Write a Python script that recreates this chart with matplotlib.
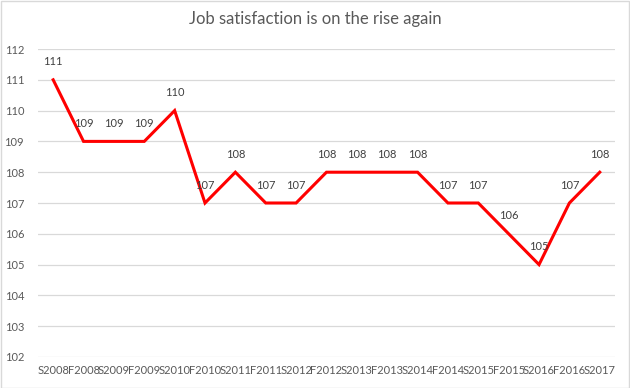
import matplotlib.pyplot as plt
import numpy as np

periods = ["S2008", "F2008", "S2009", "F2009", "S2010", "F2010", "S2011",
           "F2011", "S2012", "F2012", "S2013", "F2013", "S2014", "F2014",
           "S2015", "F2015", "S2016", "F2016", "S2017"]
satisfaction = [111, 109, 109, 109, 110, 107, 108, 107, 107, 108, 108, 108,
                108, 107, 107, 106, 105, 107, 108]
y_ticks = list(range(102, 113))

plt.rcParams["font.family"] = ["Lato", "DejaVu Sans"]
text_color = "#595959"

fig = plt.figure(figsize=(6.3, 3.88), dpi=100)
ax = fig.add_axes([0.0603, 0.0799, 0.9158, 0.7938])

x = np.arange(len(periods))
ax.plot(x, satisfaction, color="#FF0000", linewidth=2.2, solid_joinstyle="miter", zorder=3)
for xi, yi in zip(x, satisfaction):
    ax.annotate(str(yi), (xi, yi), xytext=(0, 9), textcoords="offset points",
                ha="center", va="bottom", fontsize=8, color="#404040")

ax.set_xlim(-0.5, len(periods) - 0.5)
ax.set_ylim(102, 112)
ax.set_yticks(y_ticks)
ax.set_xticks(x)
ax.set_xticklabels(periods)
ax.grid(axis="y", color="#D9D9D9", linewidth=0.9)
ax.set_axisbelow(True)
for s in ax.spines.values():
    s.set_visible(False)
ax.tick_params(length=0, labelsize=8, colors=text_color)
ax.tick_params(axis="x", pad=6)
ax.tick_params(axis="y", pad=10)

fig.text(0.5, 0.952, "Job satisfaction is on the rise again", ha="center", va="center",
         fontsize=12, color=text_color)

fig.patches.append(plt.Rectangle((0.001, 0.001), 0.997, 0.997, transform=fig.transFigure,
                                 fill=False, edgecolor="#D9D9D9", linewidth=1))

fig.savefig("out.png", dpi=100)
